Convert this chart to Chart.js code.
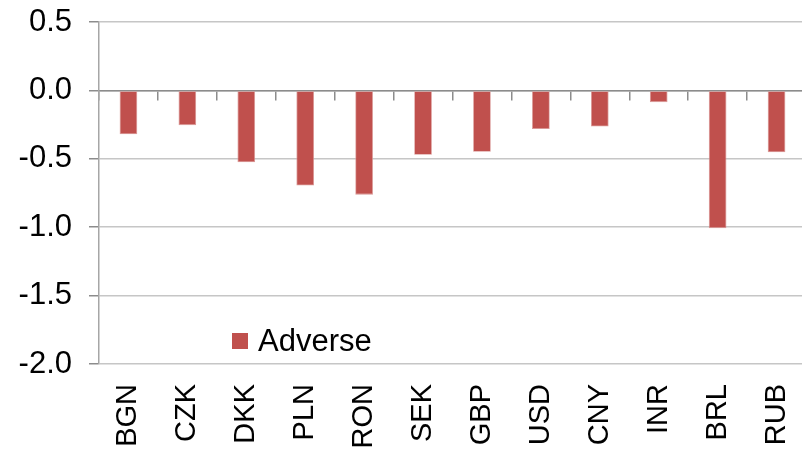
<!DOCTYPE html>
<html>
<head>
<meta charset="utf-8">
<script src="https://cdn.jsdelivr.net/npm/chart.js@4"></script>
<style>
  html, body { margin: 0; padding: 0; background: #fff; overflow: hidden; }
  #wrap { width: 807px; height: 451px; position: relative; }
</style>
</head>
<body>
<div id="wrap"><canvas id="c"></canvas></div>
<script>
const categories = ["BGN", "CZK", "DKK", "PLN", "RON", "SEK", "GBP", "USD", "CNY", "INR", "BRL", "RUB"];
const seriesName = "Adverse";
const adverseValues = [-0.32, -0.254, -0.525, -0.696, -0.762, -0.47, -0.448, -0.282, -0.264, -0.086, -1.007, -0.452];
const yTickValues = [0.5, 0.0, -0.5, -1.0, -1.5, -2.0];

const FONT = "'Liberation Sans', Arial, sans-serif";

const insideLegend = {
  id: 'insideLegend',
  afterDraw(chart) {
    const ctx = chart.ctx;
    const ds = chart.data.datasets[0];
    const x = 232, y = 341;
    ctx.save();
    ctx.fillStyle = ds.backgroundColor;
    ctx.fillRect(x, y - 8, 16, 16);
    ctx.fillStyle = '#000';
    ctx.font = '31px ' + FONT;
    ctx.textBaseline = 'middle';
    ctx.textAlign = 'left';
    ctx.fillText(ds.label, x + 26, y + 1);
    ctx.restore();
  }
};

new Chart(document.getElementById('c'), {
  type: 'bar',
  data: {
    labels: categories,
    datasets: [{
      label: seriesName,
      data: adverseValues,
      backgroundColor: '#C0504D',
      borderColor: '#D99694',
      borderWidth: 0.8,
      borderSkipped: false,
      categoryPercentage: 0.6,
      barPercentage: 0.5
    }]
  },
  options: {
    responsive: true,
    maintainAspectRatio: false,
    animation: false,
    events: [],
    layout: { padding: { top: 22, right: 1, left: 0, bottom: 0 } },
    plugins: { legend: { display: false }, tooltip: { enabled: false } },
    scales: {
      x: {
        type: 'category',
        position: 'bottom',
        offset: true,
        grid: { display: false, drawTicks: false },
        border: { display: false },
        ticks: {
          color: '#000',
          font: { family: FONT, size: 29 },
          minRotation: 90,
          maxRotation: 90,
          autoSkip: false,
          padding: 20
        },
        afterFit(scale) { scale.height = 87; scale.paddingLeft = 0; scale.paddingRight = 0; }
      },
      x0: {
        type: 'category',
        position: { y: 0 },
        offset: true,
        grid: {
          offset: true,
          drawOnChartArea: false,
          drawTicks: true,
          tickLength: 9,
          color: '#8c8c8c',
          lineWidth: 1.5
        },
        border: { display: true, color: '#8c8c8c', width: 1.5 },
        ticks: { display: false },
        afterFit(scale) { scale.height = 0; scale.paddingLeft = 0; scale.paddingRight = 0; }
      },
      y: {
        min: -2.0,
        max: 0.5,
        afterBuildTicks(scale) { scale.ticks = yTickValues.map(v => ({ value: v })); },
        grid: {
          color: '#c6c6c6',
          lineWidth: 1.5,
          drawTicks: true,
          tickLength: 10,
          tickColor: '#8c8c8c'
        },
        border: { display: true, color: '#a6a6a6', width: 1.5 },
        ticks: {
          color: '#000',
          font: { family: FONT, size: 31 },
          padding: 17,
          callback: (v) => Number(v).toFixed(1)
        },
        afterFit(scale) { scale.width = 99; scale.paddingTop = 0; scale.paddingBottom = 0; }
      }
    }
  },
  plugins: [insideLegend]
});
</script>
</body>
</html>
